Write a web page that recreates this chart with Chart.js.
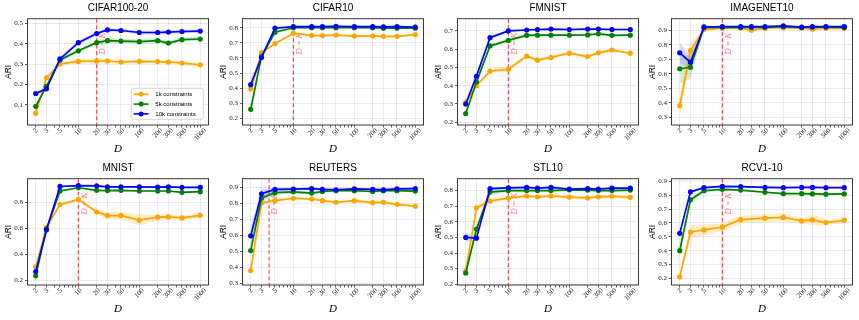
<!DOCTYPE html>
<html>
<head>
<meta charset="utf-8">
<script src="https://cdn.jsdelivr.net/npm/chart.js@4.4.0/dist/chart.umd.min.js"></script>
<style>
html, body { margin: 0; padding: 0; background: #fff; }
#wrap { position: relative; width: 859px; height: 320px; overflow: hidden; }
#wrap canvas { position: absolute; }
</style>
</head>
<body>
<div id="wrap"></div>
<script>
// x 축: 차원 D
const dims = [2, 3, 5, 10, 20, 30, 50, 100, 200, 300, 500, 1000];
const minorDims = [4, 6, 7, 8, 9, 40, 60, 70, 80, 90, 400, 600, 700, 800, 900];
const seriesNames = ['1k constraints', '5k constraints', '10k constraints'];

// CIFAR100-20
const c100_ticks = [0.1, 0.2, 0.3, 0.4, 0.5];
const c100_1k  = [0.058, 0.232, 0.300, 0.313, 0.315, 0.315, 0.310, 0.313, 0.312, 0.310, 0.305, 0.296];
const c100_5k  = [0.092, 0.190, 0.320, 0.365, 0.405, 0.415, 0.413, 0.410, 0.415, 0.403, 0.420, 0.423];
const c100_10k = [0.155, 0.178, 0.325, 0.405, 0.450, 0.468, 0.465, 0.455, 0.455, 0.457, 0.460, 0.462];
const c100_sd1k  = [0.006, 0.010, 0.010, 0.010, 0.015, 0.013, 0.010, 0.008, 0.008, 0.008, 0.010, 0.008];
const c100_sd5k  = [0.010, 0.010, 0.010, 0.010, 0.012, 0.012, 0.012, 0.012, 0.012, 0.010, 0.010, 0.010];
const c100_sd10k = [0.010, 0.012, 0.012, 0.010, 0.010, 0.008, 0.008, 0.008, 0.012, 0.008, 0.008, 0.008];

// CIFAR10
const c10_ticks = [0.2, 0.3, 0.4, 0.5, 0.6, 0.7, 0.8];
const c10_1k  = [0.395, 0.635, 0.695, 0.763, 0.750, 0.748, 0.752, 0.745, 0.745, 0.743, 0.743, 0.755];
const c10_5k  = [0.260, 0.610, 0.770, 0.800, 0.800, 0.800, 0.800, 0.800, 0.800, 0.797, 0.797, 0.797];
const c10_10k = [0.423, 0.603, 0.797, 0.808, 0.807, 0.807, 0.810, 0.807, 0.807, 0.806, 0.807, 0.805];
const c10_sd1k  = [0.030, 0.010, 0.010, 0.008, 0.006, 0.006, 0.006, 0.008, 0.006, 0.006, 0.006, 0.006];
const c10_sd5k  = [0.040, 0.020, 0.010, 0.005, 0.005, 0.005, 0.005, 0.005, 0.005, 0.005, 0.005, 0.005];
const c10_sd10k = [0.040, 0.020, 0.010, 0.006, 0.006, 0.006, 0.006, 0.006, 0.006, 0.006, 0.006, 0.006];

// FMNIST
const fm_ticks = [0.2, 0.3, 0.4, 0.5, 0.6, 0.7];
const fm_1k  = [0.310, 0.400, 0.480, 0.490, 0.562, 0.540, 0.555, 0.578, 0.560, 0.580, 0.595, 0.578];
const fm_5k  = [0.248, 0.420, 0.618, 0.648, 0.676, 0.677, 0.677, 0.677, 0.678, 0.684, 0.676, 0.677];
const fm_10k = [0.300, 0.452, 0.663, 0.700, 0.705, 0.708, 0.710, 0.708, 0.710, 0.710, 0.708, 0.708];
const fm_sd1k  = [0.010, 0.010, 0.010, 0.015, 0.010, 0.010, 0.010, 0.008, 0.010, 0.010, 0.008, 0.008];
const fm_sd5k  = [0.010, 0.015, 0.010, 0.012, 0.008, 0.006, 0.006, 0.006, 0.006, 0.006, 0.006, 0.006];
const fm_sd10k = [0.020, 0.020, 0.010, 0.005, 0.005, 0.005, 0.005, 0.005, 0.005, 0.005, 0.005, 0.005];

// IMAGENET10
const in_ticks = [0.3, 0.4, 0.5, 0.6, 0.7, 0.8, 0.9];
const in_1k  = [0.380, 0.760, 0.905, 0.915, 0.915, 0.900, 0.915, 0.918, 0.915, 0.908, 0.915, 0.913];
const in_5k  = [0.635, 0.645, 0.920, 0.922, 0.920, 0.920, 0.920, 0.925, 0.920, 0.922, 0.922, 0.920];
const in_10k = [0.745, 0.680, 0.923, 0.925, 0.925, 0.925, 0.925, 0.930, 0.922, 0.925, 0.925, 0.925];
const in_sd1k  = [0.080, 0.050, 0.010, 0.008, 0.006, 0.008, 0.006, 0.006, 0.006, 0.008, 0.006, 0.006];
const in_sd5k  = [0.100, 0.080, 0.005, 0.005, 0.005, 0.005, 0.005, 0.005, 0.005, 0.005, 0.005, 0.005];
const in_sd10k = [0.070, 0.050, 0.005, 0.005, 0.005, 0.005, 0.005, 0.005, 0.005, 0.005, 0.005, 0.005];

// MNIST
const mn_ticks = [0.2, 0.4, 0.6, 0.8];
const mn_1k  = [0.305, 0.610, 0.785, 0.825, 0.728, 0.700, 0.700, 0.665, 0.688, 0.690, 0.682, 0.702];
const mn_5k  = [0.235, 0.595, 0.890, 0.915, 0.895, 0.893, 0.895, 0.890, 0.890, 0.890, 0.880, 0.885];
const mn_10k = [0.268, 0.590, 0.925, 0.932, 0.930, 0.922, 0.922, 0.922, 0.920, 0.922, 0.918, 0.918];
const mn_sd1k  = [0.010, 0.010, 0.010, 0.010, 0.015, 0.030, 0.030, 0.045, 0.020, 0.020, 0.020, 0.025];
const mn_sd5k  = [0.010, 0.010, 0.008, 0.006, 0.006, 0.006, 0.006, 0.006, 0.006, 0.006, 0.006, 0.006];
const mn_sd10k = [0.010, 0.010, 0.006, 0.006, 0.006, 0.006, 0.006, 0.006, 0.006, 0.006, 0.006, 0.006];

// REUTERS
const re_ticks = [0.3, 0.4, 0.5, 0.6, 0.7, 0.8, 0.9];
const re_1k  = [0.378, 0.800, 0.815, 0.830, 0.825, 0.815, 0.805, 0.815, 0.802, 0.805, 0.792, 0.780];
const re_5k  = [0.503, 0.830, 0.865, 0.870, 0.862, 0.872, 0.877, 0.877, 0.872, 0.877, 0.877, 0.875];
const re_10k = [0.595, 0.858, 0.885, 0.887, 0.890, 0.885, 0.883, 0.888, 0.885, 0.882, 0.888, 0.890];
const re_sd1k  = [0.030, 0.010, 0.010, 0.008, 0.008, 0.008, 0.008, 0.008, 0.008, 0.008, 0.008, 0.008];
const re_sd5k  = [0.040, 0.030, 0.015, 0.010, 0.010, 0.008, 0.008, 0.008, 0.008, 0.008, 0.008, 0.008];
const re_sd10k = [0.060, 0.030, 0.010, 0.008, 0.008, 0.008, 0.008, 0.008, 0.008, 0.008, 0.008, 0.008];

// STL10
const st_ticks = [0.2, 0.3, 0.4, 0.5, 0.6, 0.7, 0.8];
const st_1k  = [0.285, 0.690, 0.733, 0.752, 0.765, 0.760, 0.765, 0.758, 0.753, 0.760, 0.763, 0.757];
const st_5k  = [0.272, 0.553, 0.790, 0.800, 0.800, 0.800, 0.800, 0.805, 0.803, 0.800, 0.800, 0.803];
const st_10k = [0.500, 0.495, 0.812, 0.817, 0.820, 0.815, 0.820, 0.810, 0.812, 0.810, 0.815, 0.815];
const st_sd1k  = [0.010, 0.020, 0.020, 0.010, 0.010, 0.010, 0.010, 0.015, 0.010, 0.010, 0.010, 0.010];
const st_sd5k  = [0.010, 0.030, 0.020, 0.010, 0.008, 0.008, 0.008, 0.008, 0.008, 0.008, 0.008, 0.008];
const st_sd10k = [0.030, 0.010, 0.008, 0.006, 0.006, 0.006, 0.006, 0.006, 0.006, 0.006, 0.006, 0.006];

// RCV1-10 (D=30 없음)
const rc_ticks = [0.2, 0.3, 0.4, 0.5, 0.6, 0.7, 0.8, 0.9];
const rc_1k  = [0.210, 0.535, 0.550, 0.570, 0.625, null, 0.635, 0.640, 0.615, 0.622, 0.603, 0.620];
const rc_5k  = [0.400, 0.768, 0.833, 0.843, 0.838, null, 0.822, 0.812, 0.812, 0.810, 0.808, 0.810];
const rc_10k = [0.525, 0.825, 0.855, 0.865, 0.863, null, 0.857, 0.855, 0.857, 0.857, 0.855, 0.855];
const rc_sd1k  = [0.010, 0.050, 0.040, 0.030, 0.030, null, 0.030, 0.030, 0.020, 0.040, 0.020, 0.020];
const rc_sd5k  = [0.050, 0.020, 0.010, 0.010, 0.008, null, 0.008, 0.008, 0.008, 0.008, 0.008, 0.008];
const rc_sd10k = [0.020, 0.010, 0.008, 0.006, 0.006, null, 0.006, 0.006, 0.006, 0.006, 0.006, 0.006];

// 색상
const lineColors = ['#ffa500', '#008000', '#0000ff'];
const bandColors = ['rgba(255,165,0,0.2)', 'rgba(0,128,0,0.15)', 'rgba(0,0,255,0.15)'];
const gridColor = 'rgba(0,0,0,0.1)';
const axisColor = '#3a3a3a';

const panels = [
    { title: 'CIFAR100-20', k: 20, yMin: 0.0, yMax: 0.523, yTicks: c100_ticks,
      series: [c100_1k, c100_5k, c100_10k], sd: [c100_sd1k, c100_sd5k, c100_sd10k], legend: true },
    { title: 'CIFAR10', k: 10, yMin: 0.156, yMax: 0.86, yTicks: c10_ticks,
      series: [c10_1k, c10_5k, c10_10k], sd: [c10_sd1k, c10_sd5k, c10_sd10k] },
    { title: 'FMNIST', k: 10, yMin: 0.185, yMax: 0.767, yTicks: fm_ticks,
      series: [fm_1k, fm_5k, fm_10k], sd: [fm_sd1k, fm_sd5k, fm_sd10k] },
    { title: 'IMAGENET10', k: 10, yMin: 0.247, yMax: 0.98, yTicks: in_ticks,
      series: [in_1k, in_5k, in_10k], sd: [in_sd1k, in_sd5k, in_sd10k] },
    { title: 'MNIST', k: 10, yMin: 0.164, yMax: 0.985, yTicks: mn_ticks,
      series: [mn_1k, mn_5k, mn_10k], sd: [mn_sd1k, mn_sd5k, mn_sd10k] },
    { title: 'REUTERS', k: 4, yMin: 0.288, yMax: 0.952, yTicks: re_ticks,
      series: [re_1k, re_5k, re_10k], sd: [re_sd1k, re_sd5k, re_sd10k] },
    { title: 'STL10', k: 10, yMin: 0.195, yMax: 0.876, yTicks: st_ticks,
      series: [st_1k, st_5k, st_10k], sd: [st_sd1k, st_sd5k, st_sd10k] },
    { title: 'RCV1-10', k: 10, yMin: 0.152, yMax: 0.92, yTicks: rc_ticks,
      series: [rc_1k, rc_5k, rc_10k], sd: [rc_sd1k, rc_sd5k, rc_sd10k] }
];

// 제목, D=K 선, 틀, 범례 그리기
const decoPlugin = {
    id: 'deco',
    beforeDatasetsDraw(chart) {
        const p = chart.options.plugins.deco.panel;
        const { ctx, chartArea } = chart;
        const px = chart.scales.x.getPixelForValue(p.k);
        ctx.save();
        ctx.strokeStyle = 'rgba(255,0,0,0.7)';
        ctx.lineWidth = 1.2;
        ctx.setLineDash([4, 2.5]);
        ctx.beginPath();
        ctx.moveTo(px, chartArea.top);
        ctx.lineTo(px, chartArea.bottom);
        ctx.stroke();
        ctx.setLineDash([]);
        ctx.translate(px + 6, chartArea.top + 25);
        ctx.rotate(-Math.PI / 2);
        ctx.fillStyle = 'rgba(255,0,0,0.6)';
        ctx.font = 'italic 8.5px "Liberation Serif"';
        ctx.textAlign = 'center';
        ctx.textBaseline = 'middle';
        ctx.fillText('D = K', 0, 0);
        ctx.restore();
    },
    afterDraw(chart) {
        const p = chart.options.plugins.deco.panel;
        const { ctx, chartArea } = chart;
        ctx.save();
        // 제목
        ctx.fillStyle = '#000';
        ctx.font = '10px "Liberation Sans"';
        ctx.textAlign = 'center';
        ctx.textBaseline = 'middle';
        ctx.fillText(p.title, (chartArea.left + chartArea.right) / 2, 8.5);
        // x 눈금 라벨 (45도 회전, 가운데 정렬)
        ctx.font = '7px "Liberation Serif"';
        ctx.fillStyle = '#222';
        dims.forEach(d => {
            const px = chart.scales.x.getPixelForValue(d);
            const label = String(d);
            const w = ctx.measureText(label).width;
            const box = (w + 4.5) * Math.SQRT1_2;
            ctx.save();
            ctx.translate(px, chartArea.bottom + 3 + box / 2);
            ctx.rotate(-Math.PI / 4);
            ctx.fillText(label, 0, 0);
            ctx.restore();
        });
        // 틀
        ctx.strokeStyle = axisColor;
        ctx.lineWidth = 1;
        ctx.strokeRect(chartArea.left, chartArea.top, chartArea.right - chartArea.left, chartArea.bottom - chartArea.top);
        // 범례
        if (p.legend) {
            const bw = 72, bh = 31;
            const bx = chartArea.right - 5.2 - bw;
            const by = chartArea.bottom - 5.7 - bh;
            ctx.beginPath();
            ctx.roundRect(bx, by, bw, bh, 2);
            ctx.fillStyle = 'rgba(255,255,255,0.85)';
            ctx.fill();
            ctx.strokeStyle = '#cccccc';
            ctx.lineWidth = 0.8;
            ctx.stroke();
            ctx.font = '6px "Liberation Sans"';
            ctx.textAlign = 'left';
            seriesNames.forEach((name, i) => {
                const y = by + 6 + i * 9.8;
                ctx.strokeStyle = lineColors[i];
                ctx.lineWidth = 1.6;
                ctx.beginPath();
                ctx.moveTo(bx + 2.3, y);
                ctx.lineTo(bx + 17.3, y);
                ctx.stroke();
                ctx.fillStyle = lineColors[i];
                ctx.beginPath();
                ctx.arc(bx + 9.8, y, 2.5, 0, Math.PI * 2);
                ctx.fill();
                ctx.fillStyle = '#000';
                ctx.fillText(name, bx + 24, y);
            });
        }
        ctx.restore();
    }
};

function toPoints(vals, offs, sign) {
    const pts = [];
    dims.forEach((d, i) => {
        if (vals[i] == null) return;
        const off = offs ? offs[i] * sign : 0;
        pts.push({ x: d, y: vals[i] + off });
    });
    return pts;
}

function makeChart(p, idx) {
    const wrap = document.getElementById('wrap');
    const canvas = document.createElement('canvas');
    const col = idx % 4;
    const row = Math.floor(idx / 4);
    canvas.width = 215;
    canvas.height = 160;
    canvas.style.left = Math.round(col * 214.75) + 'px';
    canvas.style.top = (row * 160) + 'px';
    wrap.appendChild(canvas);

    const datasets = [];
    // 표준편차 영역
    p.series.forEach((vals, s) => {
        datasets.push({ data: toPoints(vals, p.sd[s], -1), borderColor: 'transparent', borderWidth: 0,
            pointRadius: 0, fill: false, order: 10 });
        datasets.push({ data: toPoints(vals, p.sd[s], 1), borderColor: 'transparent', borderWidth: 0,
            pointRadius: 0, fill: '-1', backgroundColor: bandColors[s], order: 10 });
    });
    // 평균 선
    p.series.forEach((vals, s) => {
        datasets.push({
            label: seriesNames[s],
            data: toPoints(vals, null, 0),
            borderColor: lineColors[s],
            backgroundColor: lineColors[s],
            borderWidth: 1.7,
            pointRadius: 2.6,
            pointBorderWidth: 0,
            pointBackgroundColor: lineColors[s],
            fill: false,
            tension: 0,
            order: 3 - s
        });
    });

    new Chart(canvas.getContext('2d'), {
        type: 'line',
        data: { datasets },
        options: {
            responsive: false,
            animation: false,
            devicePixelRatio: 1,
            layout: { padding: { top: 18.7, right: 6.5, left: 0, bottom: 0 } },
            plugins: {
                legend: { display: false },
                tooltip: { enabled: false },
                deco: { panel: p }
            },
            scales: {
                x: {
                    type: 'logarithmic',
                    min: 1.466,
                    max: 1364,
                    afterBuildTicks: sc => {
                        sc.ticks = dims.concat(minorDims).map(v => ({ value: v }));
                    },
                    afterFit: sc => { sc.height = 35; },
                    ticks: { display: false },
                    grid: {
                        color: c => (c.tick && dims.includes(c.tick.value)) ? gridColor : 'transparent',
                        tickColor: axisColor,
                        lineWidth: 0.8,
                        tickLength: 2.5
                    },
                    border: { display: false },
                    title: {
                        display: true, text: 'D', color: '#000',
                        font: { family: 'Liberation Serif', style: 'italic', size: 11 },
                        padding: { top: 0, bottom: 4 }
                    }
                },
                y: {
                    min: p.yMin,
                    max: p.yMax,
                    afterBuildTicks: sc => {
                        sc.ticks = p.yTicks.map(v => ({ value: v }));
                    },
                    afterFit: sc => { sc.width = 27.5; },
                    ticks: {
                        font: { family: 'Liberation Serif', size: 7 },
                        color: '#222',
                        padding: 2,
                        callback: v => Number(v).toFixed(1)
                    },
                    grid: { color: gridColor, lineWidth: 0.8, tickColor: axisColor, tickLength: 2.5 },
                    border: { display: false },
                    title: {
                        display: true, text: 'ARI', color: '#000',
                        font: { family: 'Liberation Sans', size: 8.5 },
                        padding: { top: 4, bottom: 0 }
                    }
                }
            }
        },
        plugins: [decoPlugin]
    });
}

document.addEventListener('DOMContentLoaded', function() {
    panels.forEach((p, i) => makeChart(p, i));
});
</script>
</body>
</html>
